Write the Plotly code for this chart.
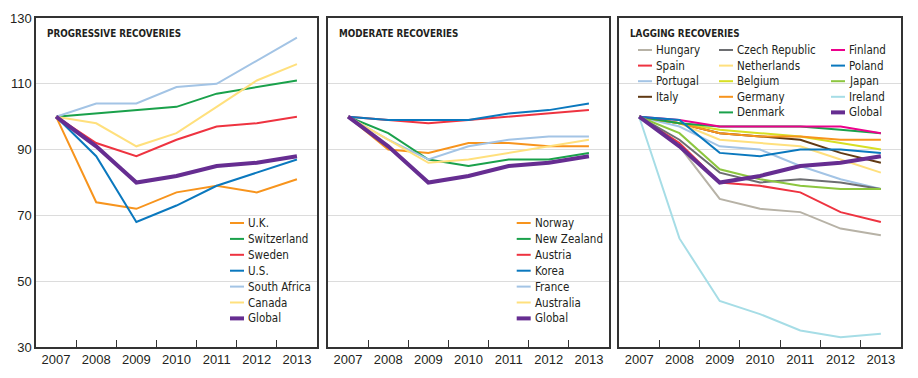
import plotly.graph_objects as go

years = ["2007", "2008", "2009", "2010", "2011", "2012", "2013"]
y_ticks = [30, 50, 70, 90, 110, 130]

# Panel 1: progressive recoveries
p1_names = ["U.K.", "Switzerland", "Sweden", "U.S.", "South Africa", "Canada"]
uk = [100, 74, 72, 77, 79, 77, 81]
switzerland = [100, 101, 102, 103, 107, 109, 111]
sweden = [100, 92, 88, 93, 97, 98, 100]
us = [100, 88, 68, 73, 79, 83, 87]
south_africa = [100, 104, 104, 109, 110, 117, 124]
canada = [100, 98, 91, 95, 103, 111, 116]
global_idx = [100, 91, 80, 82, 85, 86, 88]

# Panel 2: moderate recoveries
p2_names = ["Norway", "New Zealand", "Austria", "Korea", "France", "Australia"]
norway = [100, 90, 89, 92, 92, 91, 91]
new_zealand = [100, 95, 87, 85, 87, 87, 89]
austria = [100, 99, 98, 99, 100, 101, 102]
korea = [100, 99, 99, 99, 101, 102, 104]
france = [100, 93, 87, 91, 93, 94, 94]
australia = [100, 93, 86, 87, 89, 91, 93]

# Panel 3: lagging recoveries
p3_names = ["Hungary", "Spain", "Portugal", "Italy", "Czech Republic", "Netherlands",
            "Belgium", "Germany", "Denmark", "Finland", "Poland", "Japan", "Ireland"]
hungary = [100, 91, 75, 72, 71, 66, 64]
spain = [100, 92, 80, 79, 77, 71, 68]
portugal = [100, 97, 91, 90, 85, 81, 78]
italy = [100, 98, 95, 94, 93, 89, 86]
czech = [100, 93, 83, 80, 81, 80, 78]
netherlands = [100, 98, 93, 92, 91, 87, 83]
belgium = [100, 98, 96, 95, 94, 92, 90]
germany = [100, 98, 95, 94, 94, 93, 93]
denmark = [100, 98, 97, 97, 97, 96, 95]
finland = [100, 99, 97, 97, 97, 97, 95]
poland = [100, 99, 89, 88, 90, 90, 89]
japan = [100, 95, 84, 81, 79, 78, 78]
ireland = [100, 63, 44, 40, 35, 33, 34]

ORANGE = "#F7941D"
GREEN = "#1AA14B"
RED = "#EE3340"
BLUE = "#0A78BE"
LBLUE = "#A3C4E5"
LYELLOW = "#FFE07D"
PURPLE = "#662D91"

p1_series = [uk, switzerland, sweden, us, south_africa, canada]
p1_colors = [ORANGE, GREEN, RED, BLUE, LBLUE, LYELLOW]
p2_series = [norway, new_zealand, austria, korea, france, australia]
p2_colors = [ORANGE, GREEN, RED, BLUE, LBLUE, LYELLOW]
p3_series = [hungary, spain, portugal, italy, czech, netherlands, belgium, germany,
             denmark, finland, poland, japan, ireland]
p3_colors = ["#B7B2A6", RED, LBLUE, "#603913", "#6D6E71", LYELLOW, "#D7DF23", ORANGE,
             GREEN, "#EC008C", BLUE, "#8DC63F", "#A6DDE6"]

panels = [
    ("PROGRESSIVE RECOVERIES", p1_names, p1_series, p1_colors),
    ("MODERATE RECOVERIES", p2_names, p2_series, p2_colors),
    ("LAGGING RECOVERIES", p3_names, p3_series, p3_colors),
]

FIG_W, FIG_H = 918, 378
TOP, BOTTOM = 18, 347
dom_px = [(36, 317), (328, 609), (619, 901)]

fig = go.Figure()
annotations = []
shapes = []

TEXT = "#231F20"
NARROW = "DejaVu Sans Condensed, Liberation Sans Narrow, sans-serif"
REG = "Liberation Sans, Arial, sans-serif"

for i, (title, names, series, colors) in enumerate(panels):
    k = "" if i == 0 else str(i + 1)
    xa, ya = "x" + k, "y" + k
    for name, vals, col in zip(names, series, colors):
        fig.add_trace(go.Scatter(x=years, y=vals, mode="lines", name=name,
                                 line=dict(color=col, width=2), xaxis=xa, yaxis=ya,
                                 showlegend=False))
    fig.add_trace(go.Scatter(x=years, y=global_idx, mode="lines", name="Global",
                             line=dict(color=PURPLE, width=4), xaxis=xa, yaxis=ya,
                             showlegend=False))
    x0, x1 = dom_px[i]
    W = x1 - x0
    H = BOTTOM - TOP
    fig.update_layout({
        "xaxis" + k: dict(domain=[x0 / FIG_W, x1 / FIG_W], type="category",
                          categoryorder="array", categoryarray=years,
                          range=[-0.5, 6.5], showline=True, mirror=True,
                          linecolor="#333333", linewidth=1.5, ticks="inside",
                          tickson="boundaries", ticklen=7, tickcolor="#333333",
                          tickwidth=1.2, showgrid=False, anchor=ya,
                          tickfont=dict(family=REG, size=13, color=TEXT),
                          fixedrange=True),
        "yaxis" + k: dict(domain=[0, 1], range=[30, 130], tickvals=y_ticks,
                          showticklabels=(i == 0), showline=True, mirror=True,
                          linecolor="#333333", linewidth=1.5, ticks="",
                          showgrid=True, gridcolor="#DCDCDC", gridwidth=1,
                          zeroline=False, anchor=xa,
                          tickfont=dict(family=REG, size=13, color=TEXT),
                          fixedrange=True),
    })
    # panel title
    annotations.append(dict(text="<b>" + title + "</b>", xref=xa + " domain",
                            yref=ya + " domain", x=9 / W, y=1 - 15 / H,
                            xanchor="left", yanchor="middle", showarrow=False,
                            font=dict(family=NARROW, size=9.8, color=TEXT)))

    # legend entries (names from the data lists)
    all_names = list(names) + ["Global"]
    all_colors = list(colors) + [PURPLE]
    if i < 2:
        lx = [230 - 36, 516.7 - 328][i]
        cols = [(lx, all_names, all_colors)]
        row0, rstep = 223 - TOP, 15.9
    else:
        cols = [(638 - 619, all_names[0:4], all_colors[0:4]),
                (719 - 619, all_names[4:9], all_colors[4:9]),
                (831 - 619, all_names[9:14], all_colors[9:14])]
        row0, rstep = 50 - TOP, 15.6
    for (lx, cnames, ccols) in cols:
        for r, (nm, cc) in enumerate(zip(cnames, ccols)):
            yy = 1 - (row0 + r * rstep) / H
            shapes.append(dict(type="line", xref=xa + " domain", yref=ya + " domain",
                               x0=lx / W, x1=(lx + 14) / W, y0=yy, y1=yy,
                               line=dict(color=cc, width=4 if nm == "Global" else 2)))
            annotations.append(dict(text=nm, xref=xa + " domain", yref=ya + " domain",
                                    x=(lx + 16) / W, y=yy, xanchor="left",
                                    yanchor="middle", showarrow=False,
                                    font=dict(family=NARROW, size=11.5, color=TEXT)))

fig.update_layout(width=FIG_W, height=FIG_H,
                  margin=dict(l=0, r=0, t=TOP, b=FIG_H - BOTTOM),
                  paper_bgcolor="white", plot_bgcolor="white",
                  showlegend=False, annotations=annotations, shapes=shapes)

fig.write_html("out.html", config={"displayModeBar": False},
               post_script="document.body.style.margin='0px';document.body.style.padding='0px';")
